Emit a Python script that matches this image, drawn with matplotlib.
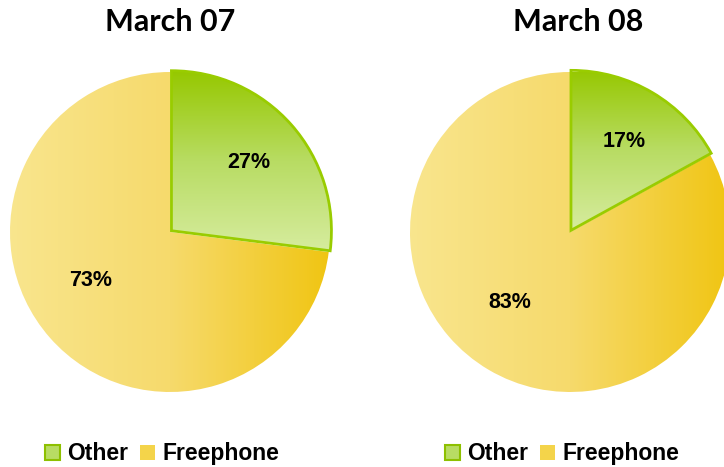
import numpy as np
import matplotlib
matplotlib.use('Agg')
import matplotlib.pyplot as plt
from matplotlib.colors import LinearSegmentedColormap
from matplotlib.patches import Rectangle

titles = ['March 07', 'March 08']
categories = ['Other', 'Freephone']
shares_07 = [27, 73]
shares_08 = [17, 83]

GREEN_CMAP = LinearSegmentedColormap.from_list('grn', ['#96C800', '#B8DC63', '#D6EC9E'])
YELLOW_CMAP = LinearSegmentedColormap.from_list('yel', ['#F9E68F', '#F6DA6C', '#F0C40E'])


def fill_gradient(ax, wedge, cmap, vertical):
    ext = wedge.get_path().get_extents()
    grad = np.linspace(0, 1, 256)
    if vertical:
        img = grad.reshape(-1, 1)  # top -> bottom
        extent = (ext.x0, ext.x1, ext.y0, ext.y1)
    else:
        img = grad.reshape(1, -1)
        extent = (-1.05, 1.05, ext.y0, ext.y1)
    im = ax.imshow(img, cmap=cmap, extent=extent, origin='upper',
                   aspect='auto', zorder=1)
    im.set_clip_path(wedge)


def place_label(text, wedge, dist, shift):
    # excel style label spot: along the slice mid angle, nudged a bit
    ang = np.deg2rad((wedge.theta1 + wedge.theta2) / 2 + shift)
    text.set_position((dist * np.cos(ang), dist * np.sin(ang)))


def draw_pie(ax, values, title, fig_x, legend_x):
    wedges, texts, autotexts = ax.pie(
        values, startangle=90, counterclock=False, explode=[0.012, 0],
        autopct='%d%%', pctdistance=0.63, radius=1.0,
        wedgeprops=dict(linewidth=0))
    # yellow first, green on top
    fill_gradient(ax, wedges[1], YELLOW_CMAP, vertical=False)
    fill_gradient(ax, wedges[0], GREEN_CMAP, vertical=True)
    wedges[1].set_facecolor('none')
    wedges[1].set_zorder(2)
    wedges[0].set_facecolor('none')
    wedges[0].set_edgecolor('#99CC00')
    wedges[0].set_linewidth(2)
    wedges[0].set_zorder(3)
    place_label(autotexts[0], wedges[0], 0.66, 0)
    place_label(autotexts[1], wedges[1], 0.58, -10)
    for t in autotexts:
        t.set_fontsize(15.5)
        t.set_fontweight('bold')
        t.set_family('Liberation Sans')
        t.set_zorder(5)
    ax.set_xlim(-1.0, 1.0)
    ax.set_ylim(-1.0, 1.0)
    ax.set_aspect('equal')
    ax.axis('off')
    ax.figure.text(fig_x, 0.953, title, ha='center', va='center',
                   fontsize=22, fontweight='bold', family='Lato')

    handles = [Rectangle((0, 0), 1, 1, facecolor='#B8DC63', edgecolor='#8DC000', linewidth=1.5),
               Rectangle((0, 0), 1, 1, facecolor='#F4D44A', edgecolor='none')]
    ax.figure.legend(handles, categories, loc='center',
                     bbox_to_anchor=(legend_x, 0.028), ncol=2, frameon=False,
                     handlelength=0.65, handleheight=0.65, handletextpad=0.3,
                     columnspacing=0.55,
                     prop=dict(family='Liberation Sans', weight='bold', size=16.5))


fig = plt.figure(figsize=(7.24, 4.67), dpi=100)
ax1 = fig.add_axes([10 / 724, 75 / 467, 320 / 724, 320 / 467])
ax2 = fig.add_axes([410 / 724, 75 / 467, 320 / 724, 320 / 467])

draw_pie(ax1, shares_07, titles[0], 170 / 724, 162 / 724)
draw_pie(ax2, shares_08, titles[1], 578 / 724, 562 / 724)

fig.savefig('out.png', dpi=100)
